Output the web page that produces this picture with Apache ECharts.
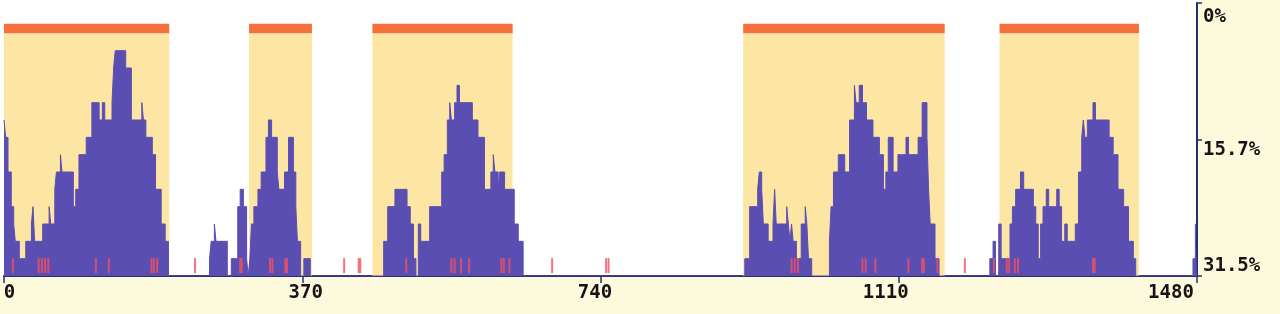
<!DOCTYPE html>
<html><head><meta charset="utf-8">
<script src="https://cdn.jsdelivr.net/npm/echarts@6/dist/echarts.min.js"></script>
<style>html,body{margin:0;padding:0;background:#fff}#c{width:1280px;height:314px}</style>
</head><body><div id="c"></div>
<script>
// ---- data ----
const xTickValues = [0, 370, 740, 1110, 1480];
const xTickLabels = ['0', '370', '740', '1110', '1480'];
const yTickValues = [0, 15.75, 31.5];
const yTickLabels = ['0%', '15.7%', '31.5%'];
const regions = [[0, 205], [304, 382], [457, 631], [917, 1167], [1235, 1408]];

// histogram: [position, level] change points
const cluster1 = [[0,9],[2,8],[5,6],[9,4],[12,3],[14,2],[19,1],[27,2],[34,3],[36,4],[37,3],[38,2],[48,3],[56,4],[58,3],[63,5],[65,6],[70,7],[72,6],[86,4],[89,5],[93,7],[102,8],[109,10],[118,9],[122,10],[125,9],[134,10],[136,12],[138,13],[151,12],[158,9],[171,10],[173,9],[176,8],[184,7],[188,5],[195,3],[200,2],[204,0]];
const gap1 = [[255,1],[257,2],[261,3],[263,2],[277,0],[282,1],[290,4],[293,5],[297,4],[301,1],[303,0]];
const cluster2 = [[305,1],[307,3],[310,4],[315,5],[319,6],[325,8],[328,9],[332,8],[339,6],[341,5],[348,6],[353,8],[359,6],[362,4],[364,2],[368,0],[372,1],[380,0]];
const cluster3 = [[471,2],[476,4],[485,5],[500,4],[504,3],[508,1],[511,0],[514,3],[517,2],[528,4],[543,6],[546,7],[550,9],[553,10],[555,9],[559,10],[562,11],[565,10],[581,9],[588,8],[596,5],[604,6],[607,7],[609,6],[613,5],[615,6],[621,5],[633,3],[638,2],[644,0]];
const cluster4a = [[919,1],[925,4],[935,5],[937,6],[940,5],[942,3],[948,2],[954,3],[956,5],[958,3],[971,4],[973,3],[975,2],[977,3],[979,2],[983,1],[989,3],[994,4],[996,3],[998,1],[1002,0]];
const cluster4b = [[1024,2],[1026,4],[1029,6],[1035,7],[1043,6],[1049,9],[1055,11],[1057,10],[1061,11],[1065,10],[1070,9],[1078,8],[1086,7],[1091,5],[1094,6],[1097,8],[1103,6],[1109,7],[1119,8],[1122,7],[1134,8],[1139,10],[1145,8],[1147,5],[1149,3],[1155,1],[1160,0]];
const cluster5 = [[1223,1],[1227,2],[1230,0],[1234,3],[1237,1],[1248,3],[1251,4],[1255,5],[1261,6],[1265,5],[1277,4],[1280,3],[1283,1],[1286,3],[1289,4],[1293,5],[1296,4],[1306,5],[1309,4],[1312,2],[1316,3],[1319,2],[1329,3],[1333,6],[1337,8],[1339,9],[1341,8],[1344,9],[1351,10],[1354,9],[1371,8],[1376,7],[1382,5],[1389,4],[1395,2],[1401,1],[1404,0]];
const tail = [[1475,1],[1478,3],[1480,3]];

const redMarks = [11,43,47,51,55,114,130,183,186,190,237,293,295,330,333,349,351,422,440,442,499,555,559,567,577,617,620,627,680,747,750,977,981,985,1065,1069,1081,1122,1139,1141,1158,1192,1228,1244,1247,1254,1258,1351,1353];

// ---- styles ----
const BLUE = '#5b4eb3', YELLOW = '#fde6a3', ORANGE = '#f5703b', RED = '#f2505e', NAVY = '#23306e';
const FONT = {fontFamily: 'DejaVu Sans Mono', fontWeight: 'bold', fontSize: 19, color: '#151515'};

const hist = [].concat(cluster1, gap1, cluster2, cluster3, cluster4a, cluster4b, cluster5, tail);

const xShift = [[0,0,0,11],[0,0,0,7],[0,11,0,0],[0,26,0,0],[0,52,0,0]];
const yShift = [[28,0,0,0],[21,0,0,0],[0,0,20,0]];
const xRich = {}, yRich = {};
xShift.forEach((p, i) => xRich['x' + i] = Object.assign({padding: p}, FONT));
yShift.forEach((p, i) => yRich['y' + i] = Object.assign({padding: p}, FONT));

const areaData = [];
regions.forEach(([a, b]) => {
  areaData.push([{xAxis: a, yAxis: 0, itemStyle: {color: YELLOW}}, {xAxis: b, yAxis: 14}]);
  areaData.push([{xAxis: a, yAxis: 14, itemStyle: {color: ORANGE}}, {xAxis: b, yAxis: 14.55}]);
});

const chart = echarts.init(document.getElementById('c'));
chart.setOption({
  animation: false,
  backgroundColor: '#fdf9dc',
  graphic: [
    {type: 'rect', z: -10, silent: true, shape: {x: 0, y: 0, width: 1197, height: 3}, style: {fill: '#ffffff'}},
    {type: 'rect', z: -10, silent: true, shape: {x: 0, y: 0, width: 4, height: 276}, style: {fill: '#ffffff'}}
  ],
  grid: {left: 4, right: 83, top: 3, bottom: 38, show: true, backgroundColor: '#ffffff', borderWidth: 0},
  xAxis: {
    type: 'value', min: 0, max: 1480, interval: 370,
    axisLine: {lineStyle: {color: NAVY, width: 2}},
    axisTick: {length: 7, lineStyle: {color: NAVY, width: 1.5}},
    splitLine: {show: false},
    axisLabel: Object.assign({}, FONT, {
      margin: 8, showMinLabel: true, showMaxLabel: true,
      formatter: v => { const i = xTickValues.indexOf(v); return i < 0 ? '' : '{x' + i + '|' + xTickLabels[i] + '}'; },
      rich: xRich
    })
  },
  yAxis: [
    {type: 'value', min: 0, max: 15.75, show: false, position: 'left'},
    {
      type: 'value', position: 'right', inverse: true, min: 0, max: 31.5, interval: 15.75,
      axisLine: {show: true, lineStyle: {color: NAVY, width: 2}},
      axisTick: {show: true, length: 5, lineStyle: {color: NAVY, width: 1.5}},
      splitLine: {show: false},
      axisLabel: Object.assign({}, FONT, {
        margin: 6, showMinLabel: true, showMaxLabel: true,
        formatter: v => { const i = yTickValues.indexOf(v); return i < 0 ? '' : '{y' + i + '|' + yTickLabels[i] + '}'; },
        rich: yRich
      })
    }
  ],
  series: [
    {
      type: 'line', step: 'end', data: hist, yAxisIndex: 0, symbol: 'none', z: 3,
      lineStyle: {color: BLUE, width: 1}, areaStyle: {color: BLUE, opacity: 1},
      markArea: {silent: true, z: 1, data: areaData}
    },
    {
      type: 'scatter', yAxisIndex: 0, z: 5, symbol: 'rect', symbolSize: [2, 15],
      itemStyle: {color: RED}, data: redMarks.map(x => [x, 0.6])
    }
  ]
});
</script></body></html>
